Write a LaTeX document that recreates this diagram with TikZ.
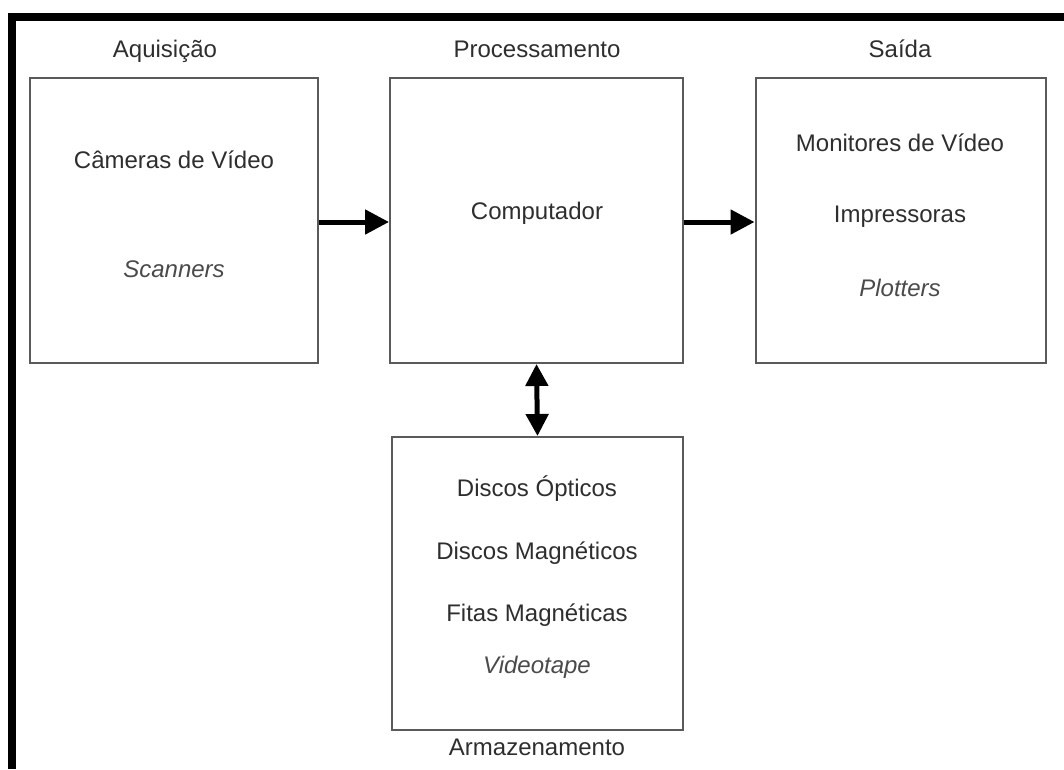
\documentclass[tikz,border=0pt]{standalone}
\usepackage{fontspec}
\setmainfont{Liberation Sans}
\usetikzlibrary{arrows.meta}
\definecolor{boxgray}{HTML}{5A5A5A}
\definecolor{txtgray}{HTML}{2E2E2E}
\definecolor{itgray}{HTML}{4A4A4A}
\begin{document}
\begin{tikzpicture}[x=1pt, y=-1pt,
    block/.style={draw=boxgray, line width=2pt, inner sep=0pt},
    label/.style={text=txtgray, font=\fontsize{24}{28}\selectfont, inner sep=0pt, anchor=base},
    extra/.style={label, font=\fontsize{24}{28}\selectfont\itshape, text=itgray},
    flow/.style={line width=5pt, -{Triangle[length=24pt,width=24pt]}},
    both/.style={line width=5pt, {Triangle[length=22pt,width=22pt]}-{Triangle[length=22pt,width=22pt]}}]
    \useasboundingbox (0,0) rectangle (1064,769);

    % moldura
    \fill[black] (8,13) rectangle (1064,21);
    \fill[black] (8,13) rectangle (16,769);

    % blocos
    \node[block, minimum width=288pt, minimum height=285pt] (aquis) at (174,220.5) {};
    \node[block, minimum width=293pt, minimum height=285pt] (proc) at (536.5,220.5) {};
    \node[block, minimum width=290pt, minimum height=285pt] (saida) at (900.5,220.5) {};
    \node[block, minimum width=291pt, minimum height=293pt] (armaz) at (537.5,583.5) {};

    % titulos
    \node[label] (tAquis) at (165,57) {Aquisição};
    \node[label] (tProc) at (537,57) {Processamento};
    \node[label] (tSaida) at (900,57) {Saída};
    \node[label] (tArmaz) at (537,755) {Armazenamento};

    % conteudo
    \node[label] (camera) at (174,168) {Câmeras de Vídeo};
    \node[extra] (scan) at (174,277) {Scanners};
    \node[label] (comp) at (537,219) {Computador};
    \node[label] (monit) at (900,151) {Monitores de Vídeo};
    \node[label] (impr) at (900,222) {Impressoras};
    \node[extra] (plot) at (900,296) {Plotters};
    \node[label] (optic) at (537,496) {Discos Ópticos};
    \node[label] (magn) at (537,559) {Discos Magnéticos};
    \node[label] (fitas) at (537,621) {Fitas Magnéticas};
    \node[extra] (video) at (537,673) {Videotape};

    % setas
    \draw[flow] (aquis.east |- 0,222) -- (proc.west |- 0,222);
    \draw[flow] (proc.east |- 0,222) -- (saida.west |- 0,222);
    \draw[both] (proc.south) -- (armaz.north);
\end{tikzpicture}
\end{document}
